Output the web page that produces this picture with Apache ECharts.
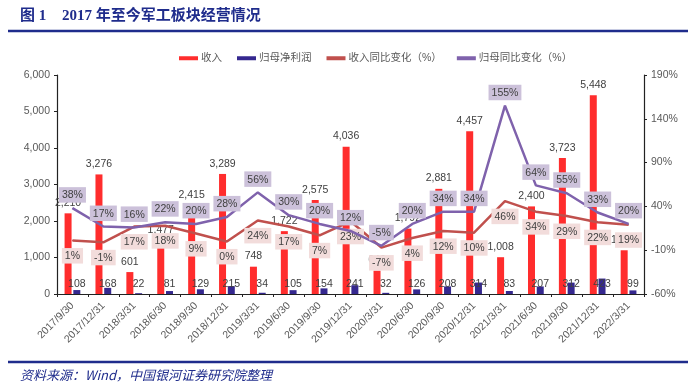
<!DOCTYPE html>
<html>
<head>
<meta charset="utf-8">
<script src="https://cdn.jsdelivr.net/npm/echarts@6/dist/echarts.min.js"></script>
<style>
html,body{margin:0;padding:0;background:#fff;}
#c{width:700px;height:387px;}
</style>
</head>
<body>
<div id="c"></div>
<script>
var categories = ['2017/9/30','2017/12/31','2018/3/31','2018/6/30','2018/9/30','2018/12/31','2019/3/31','2019/6/30','2019/9/30','2019/12/31','2020/3/31','2020/6/30','2020/9/30','2020/12/31','2021/3/31','2021/6/30','2021/9/30','2021/12/31','2022/3/31'];
var revenue = [2210,3276,601,1477,2415,3289,748,1722,2575,4036,640,1792,2881,4457,1008,2400,3723,5448,1198];
var netProfit = [108,168,22,81,129,215,34,105,154,241,32,126,208,314,83,207,312,423,99];
var revenueYoY = [1,-1,17,18,9,0,24,17,7,23,-7,4,12,10,46,34,29,22,19];
var profitYoY = [38,17,16,22,20,28,56,30,20,12,-5,20,34,34,155,64,55,33,20];
var leftTicks = {min:0,max:6000,interval:1000};
var rightTicks = {min:-60,max:190,interval:50};

var seriesNames = ['收入','归母净利润','收入同比变化（%）','归母同比变化（%）'];
var txt = '#404040';
var axisTxt = '#595959';
var navy = '#1F2C8C';

function fmtNum(v){ return String(v).replace(/\B(?=(\d{3})+(?!\d))/g, ','); }

var chart = echarts.init(document.getElementById('c'), null, {renderer:'canvas'});
chart.setOption({
  animation:false,
  backgroundColor:'#ffffff',
  textStyle:{fontFamily:'"Liberation Sans","Noto Sans CJK SC",sans-serif'},
  graphic:[
    {type:'text', left:20, top:9, style:{text:'图 1', fontSize:15, fontWeight:'bold', fill:navy, fontFamily:'"Liberation Serif","Noto Sans CJK SC",serif'}},
    {type:'text', left:62, top:9, style:{text:'2017 年至今军工板块经营情况', fontSize:15, fontWeight:'bold', fill:navy, fontFamily:'"Liberation Serif","Noto Sans CJK SC",serif'}},
    {type:'line', shape:{x1:8,y1:31,x2:688,y2:31}, style:{stroke:navy, lineWidth:2.5}},
    {type:'line', shape:{x1:8,y1:362,x2:688,y2:362}, style:{stroke:navy, lineWidth:2.5}},
    {type:'text', left:20, top:369, style:{text:'资料来源：Wind，中国银河证券研究院整理', fontSize:13, fontStyle:'italic', fill:navy, fontFamily:'"Noto Sans CJK SC",sans-serif'}}
  ],
  legend:{
    left:174, top:48, itemWidth:19, itemHeight:4, itemGap:15,
    icon:'rect',
    textStyle:{fontSize:10.5, color:axisTxt, padding:[0,0,0,-2]},
    data:seriesNames
  },
  grid:{left:57, right:56, top:75, bottom:93, containLabel:false},
  xAxis:{
    type:'category', data:categories, boundaryGap:true,
    axisLine:{lineStyle:{color:'#222', width:1.2}},
    axisTick:{show:true, length:3, lineStyle:{color:'#222'}},
    axisLabel:{interval:0, rotate:45, fontSize:10.5, color:axisTxt, margin:10}
  },
  yAxis:[
    {type:'value', min:leftTicks.min, max:leftTicks.max, interval:leftTicks.interval,
     axisLine:{show:true, lineStyle:{color:'#222', width:1.2}},
     axisTick:{show:true, length:3, lineStyle:{color:'#222'}},
     splitLine:{show:false},
     axisLabel:{fontSize:10.5, color:axisTxt, margin:7, formatter:function(v){return fmtNum(v);}}},
    {type:'value', min:rightTicks.min, max:rightTicks.max, interval:rightTicks.interval,
     axisLine:{show:true, lineStyle:{color:'#222', width:1.2}},
     axisTick:{show:true, length:3, lineStyle:{color:'#222'}},
     splitLine:{show:false},
     axisLabel:{fontSize:10.5, color:axisTxt, margin:7, formatter:'{value}%'}}
  ],
  series:[
    {name:seriesNames[0], type:'bar', yAxisIndex:0, data:revenue, barWidth:7, barGap:'25%',
     itemStyle:{color:'#FF2D2D'},
     label:{show:true, position:'top', distance:5, fontSize:10.5, color:txt, formatter:function(p){return fmtNum(p.value);}}},
    {name:seriesNames[1], type:'bar', yAxisIndex:0, data:netProfit, barWidth:7,
     itemStyle:{color:'#35288F'},
     label:{show:true, position:'insideBottom', distance:5, fontSize:10.5, color:txt}},
    {name:seriesNames[2], type:'line', yAxisIndex:1, data:revenueYoY, symbol:'circle', symbolSize:1, showSymbol:true, z:5,
     lineStyle:{color:'#C0504D', width:2.5}, itemStyle:{color:'#C0504D'},
     label:{show:true, position:'bottom', distance:7, fontSize:10.5, color:txt, backgroundColor:'#F2DCDB', padding:[3,3,2,3], formatter:'{c}%'}},
    {name:seriesNames[3], type:'line', yAxisIndex:1, data:profitYoY, symbol:'circle', symbolSize:1, showSymbol:true, z:6,
     lineStyle:{color:'#7F62AC', width:2.5}, itemStyle:{color:'#7F62AC'},
     label:{show:true, position:'top', distance:5, fontSize:10.5, color:txt, backgroundColor:'#CCC1DA', padding:[3,3,2,3], formatter:'{c}%'}}
  ]
});
</script>
</body>
</html>
